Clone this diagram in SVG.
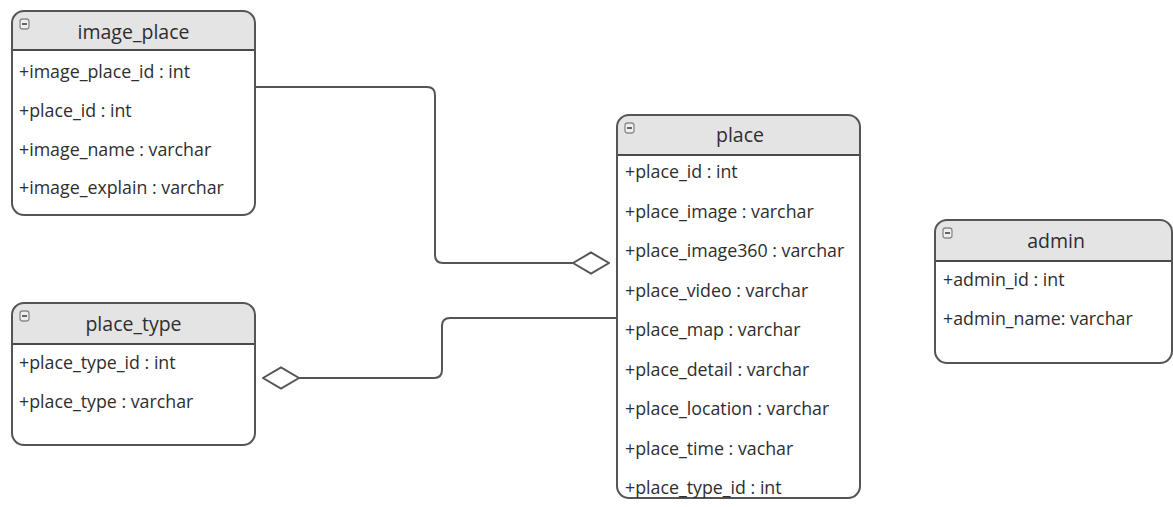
<svg xmlns="http://www.w3.org/2000/svg" width="1173" height="507" viewBox="0 0 1173 507">
  <style>
    .body { fill: #ffffff; }
    .head { fill: #e4e4e4; }
    .frame { fill: none; stroke: #555555; stroke-width: 2; }
    .sep { stroke: #4a4a4a; stroke-width: 2; }
    .title { font-family: "Open Sans", "Liberation Sans", sans-serif; font-size: 19.5px; fill: #2e2e2e; text-anchor: middle; }
    .row { font-family: "Open Sans", "Liberation Sans", sans-serif; font-size: 17.8px; fill: #2e2e2e; }
    .icon { fill: #eeeeee; stroke: #8a8a8a; stroke-width: 1.3; }
    .iconbar { stroke: #666666; stroke-width: 2; }
    .link { fill: none; stroke: #555555; stroke-width: 2; }
  </style>
  <defs>
    <marker id="agg" viewBox="0 0 38 24" refX="37" refY="12" markerWidth="38" markerHeight="24" markerUnits="userSpaceOnUse" orient="auto">
      <path d="M1,12 L19,1.5 L37,12 L19,22.5 Z" fill="#ffffff" stroke="#555555" stroke-width="2"/>
    </marker>
  </defs>
  <rect width="1173" height="507" fill="#ffffff"/>

  <!-- connectors -->
  <g id="connectors">
    <path class="link" d="M256,87 H427 Q435,87 435,95 V255 Q435,263 443,263 H609" marker-end="url(#agg)"/>
    <path class="link" d="M617,318 H450 Q442,318 442,326 V370 Q442,378 434,378 H263" marker-end="url(#agg)"/>
  </g>

  <!-- image_place -->
  <g id="image_place">
    <rect class="body" x="12" y="11" width="243" height="204" rx="12"/>
    <path class="head" d="M12,50 V23 Q12,11 24,11 H243 Q255,11 255,23 V50 Z"/>
    <line class="sep" x1="12" y1="50" x2="255" y2="50"/>
    <rect class="frame" x="12" y="11" width="243" height="204" rx="12"/>
    <rect class="icon" x="20" y="19" width="9" height="10" rx="2.5"/>
    <line class="iconbar" x1="22" y1="24" x2="27" y2="24"/>
    <text class="title" x="133.5" y="39">image_place</text>
    <text class="row" x="19" y="78">+image_place_id : int</text>
    <text class="row" x="19" y="117">+place_id : int</text>
    <text class="row" x="19" y="156">+image_name : varchar</text>
    <text class="row" x="19" y="194">+image_explain : varchar</text>
  </g>

  <!-- place_type -->
  <g id="place_type">
    <rect class="body" x="12" y="303" width="243" height="142" rx="12"/>
    <path class="head" d="M12,344 V315 Q12,303 24,303 H243 Q255,303 255,315 V344 Z"/>
    <line class="sep" x1="12" y1="344" x2="255" y2="344"/>
    <rect class="frame" x="12" y="303" width="243" height="142" rx="12"/>
    <rect class="icon" x="20" y="311" width="9" height="10" rx="2.5"/>
    <line class="iconbar" x1="22" y1="316" x2="27" y2="316"/>
    <text class="title" x="133.5" y="331">place_type</text>
    <text class="row" x="19" y="369">+place_type_id : int</text>
    <text class="row" x="19" y="408">+place_type : varchar</text>
  </g>

  <!-- place -->
  <g id="place">
    <rect class="body" x="617" y="115" width="243" height="383" rx="12"/>
    <path class="head" d="M617,155 V127 Q617,115 629,115 H848 Q860,115 860,127 V155 Z"/>
    <line class="sep" x1="617" y1="155" x2="860" y2="155"/>
    <rect class="frame" x="617" y="115" width="243" height="383" rx="12"/>
    <rect class="icon" x="625" y="123" width="9" height="10" rx="2.5"/>
    <line class="iconbar" x1="627" y1="128" x2="632" y2="128"/>
    <text class="title" x="740" y="142">place</text>
    <text class="row" x="625" y="178">+place_id : int</text>
    <text class="row" x="625" y="218">+place_image : varchar</text>
    <text class="row" x="625" y="257">+place_image360 : varchar</text>
    <text class="row" x="625" y="297">+place_video : varchar</text>
    <text class="row" x="625" y="336">+place_map : varchar</text>
    <text class="row" x="625" y="376">+place_detail : varchar</text>
    <text class="row" x="625" y="415">+place_location : varchar</text>
    <text class="row" x="625" y="455">+place_time : vachar</text>
    <text class="row" x="625" y="494">+place_type_id : int</text>
  </g>

  <!-- admin -->
  <g id="admin">
    <rect class="body" x="935" y="220" width="237" height="143" rx="12"/>
    <path class="head" d="M935,261 V232 Q935,220 947,220 H1160 Q1172,220 1172,232 V261 Z"/>
    <line class="sep" x1="935" y1="261" x2="1172" y2="261"/>
    <rect class="frame" x="935" y="220" width="237" height="143" rx="12"/>
    <rect class="icon" x="943" y="228" width="9" height="10" rx="2.5"/>
    <line class="iconbar" x1="945" y1="233" x2="950" y2="233"/>
    <text class="title" x="1056" y="248">admin</text>
    <text class="row" x="943" y="286">+admin_id : int</text>
    <text class="row" x="943" y="325">+admin_name: varchar</text>
  </g>
</svg>
